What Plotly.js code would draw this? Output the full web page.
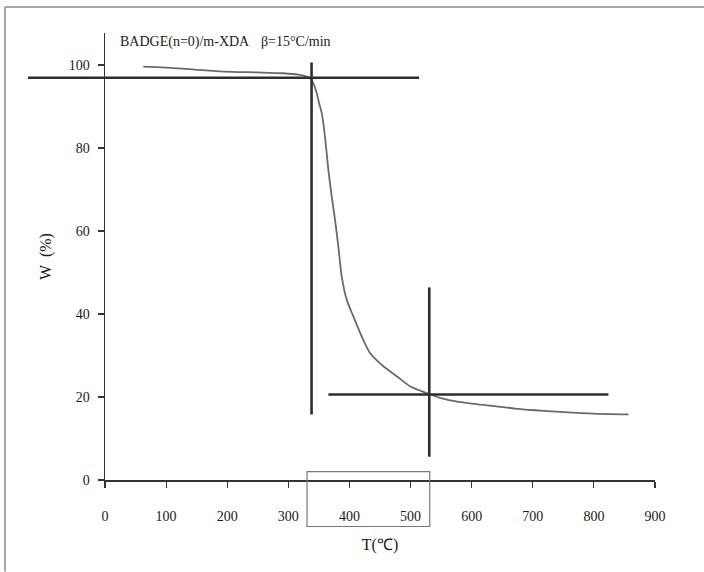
<!DOCTYPE html>
<html>
<head>
<meta charset="utf-8">
<script src="https://cdn.plot.ly/plotly-3.0.1.min.js"></script>
<style>html,body{margin:0;padding:0;background:#fff;}#chart{width:704px;height:572px;}</style>
</head>
<body>
<div id="chart"></div>
<script>
// TGA curve: temperature (°C) and residual weight (%)
const temperature = [62.7, 119.5, 152, 196, 250, 291, 319, 330, 335.5, 338, 342, 346.5, 350, 354.7, 360, 365.5, 371, 376.4, 381.8, 387.4, 395.6, 406.4, 420, 433.7, 455.5, 477.4, 499, 518, 532, 548, 564.6, 586, 611, 638, 671, 704, 744.7, 799, 856.5];
const weight      = [99.6, 99.2, 98.8, 98.4, 98.2, 98.0, 97.6, 97.2, 96.8, 96.4, 95.2, 93.2, 91.0, 88.4, 82.7, 74.7, 68.3, 62.7, 56.3, 49.0, 43.4, 39.4, 34.6, 30.6, 27.4, 25.0, 22.6, 21.4, 20.6, 19.8, 19.2, 18.7, 18.2, 17.8, 17.2, 16.8, 16.4, 16.0, 15.8];

// Tangent construction lines (onset and end points)
const onsetLineH = {t: [-126, 514], w: [96.9, 96.9]};
const onsetLineV = {t: [338, 338], w: [15.8, 100.6]};
const endLineH   = {t: [365.5, 823.7], w: [20.6, 20.6]};
const endLineV   = {t: [530.6, 530.6], w: [5.6, 46.4]};
const boxRange   = {t: [330.6, 531.4], w: [-11.2, 2.0]};

const xTicks = [0, 100, 200, 300, 400, 500, 600, 700, 800, 900];
const yTicks = [0, 20, 40, 60, 80, 100];

const xRange = [0, 900];
const yRange = [0, 107.7];

const M = {l: 105, r: 49, t: 33, b: 91.5};
const W = 704, H = 572;
const pw = W - M.l - M.r, ph = H - M.t - M.b;

function px(t) { return (t - xRange[0]) / (xRange[1] - xRange[0]); }
function py(w) { return (w - yRange[0]) / (yRange[1] - yRange[0]); }
function pixX(p) { return (p - M.l) / pw; }
function pixY(p) { return (H - M.b - p) / ph; }

const lineStyle = {color: '#2e2e2e', width: 2.6};
function seg(o) {
  return {type: 'line', xref: 'paper', yref: 'paper',
    x0: px(o.t[0]), x1: px(o.t[1]), y0: py(o.w[0]), y1: py(o.w[1]), line: lineStyle, layer: 'above'};
}

const font = {family: '"Liberation Serif", "Times New Roman", serif', size: 14, color: '#1a1a1a'};

const shapes = [
  seg(onsetLineH), seg(onsetLineV), seg(endLineH), seg(endLineV),
  {type: 'rect', xref: 'paper', yref: 'paper',
   x0: px(boxRange.t[0]), x1: px(boxRange.t[1]), y0: py(boxRange.w[0]), y1: py(boxRange.w[1]),
   line: {color: '#7a7a7a', width: 1.2}, fillcolor: 'rgba(0,0,0,0)'},
  // outer frame (top and left edges)
  {type: 'line', xref: 'paper', yref: 'paper', x0: pixX(5), x1: pixX(5), y0: pixY(7), y1: pixY(572), line: {color: '#8a8a8a', width: 1.5}},
  {type: 'line', xref: 'paper', yref: 'paper', x0: pixX(5), x1: pixX(704), y0: pixY(7), y1: pixY(7), line: {color: '#8a8a8a', width: 1.5}}
];

const trace = {
  x: temperature, y: weight, type: 'scatter', mode: 'lines',
  line: {color: '#6a6a6a', width: 1.8, shape: 'spline', smoothing: 0.6}, hoverinfo: 'x+y', showlegend: false
};

const layout = {
  width: W, height: H,
  margin: M,
  paper_bgcolor: '#ffffff', plot_bgcolor: '#ffffff',
  font: font,
  showlegend: false,
  xaxis: {
    range: xRange, tickvals: xTicks, ticktext: xTicks.map(String),
    showgrid: false, zeroline: false, showline: true, linecolor: '#333', linewidth: 2,
    ticks: 'outside', ticklen: 6, tickwidth: 1.2, tickcolor: '#333',
    ticklabelstandoff: 16,
    tickfont: font,
    title: {text: 'T(℃)', font: {family: font.family, size: 16, color: '#1a1a1a'}, standoff: 16}
  },
  yaxis: {
    range: yRange, tickvals: yTicks, ticktext: yTicks.map(String),
    showgrid: false, zeroline: false, showline: true, linecolor: '#333', linewidth: 1.5,
    ticks: 'outside', ticklen: 6, tickwidth: 1.2, tickcolor: '#333',
    ticklabelstandoff: 5,
    tickfont: font,
    title: {text: 'W  (%)', font: {family: font.family, size: 16, color: '#1a1a1a'}, standoff: 13}
  },
  shapes: shapes,
  annotations: [
    {xref: 'paper', yref: 'paper', x: pixX(118), y: pixY(42), xanchor: 'left', yanchor: 'middle',
     text: 'BADGE(n=0)/m-XDA', showarrow: false, font: {family: font.family, size: 14, color: '#1a1a1a'}},
    {xref: 'paper', yref: 'paper', x: pixX(259), y: pixY(42), xanchor: 'left', yanchor: 'middle',
     text: 'β=15°C/min', showarrow: false, font: {family: font.family, size: 14, color: '#1a1a1a'}}
  ]
};

Plotly.newPlot('chart', [trace], layout, {displayModeBar: false, staticPlot: true});
</script>
</body>
</html>
